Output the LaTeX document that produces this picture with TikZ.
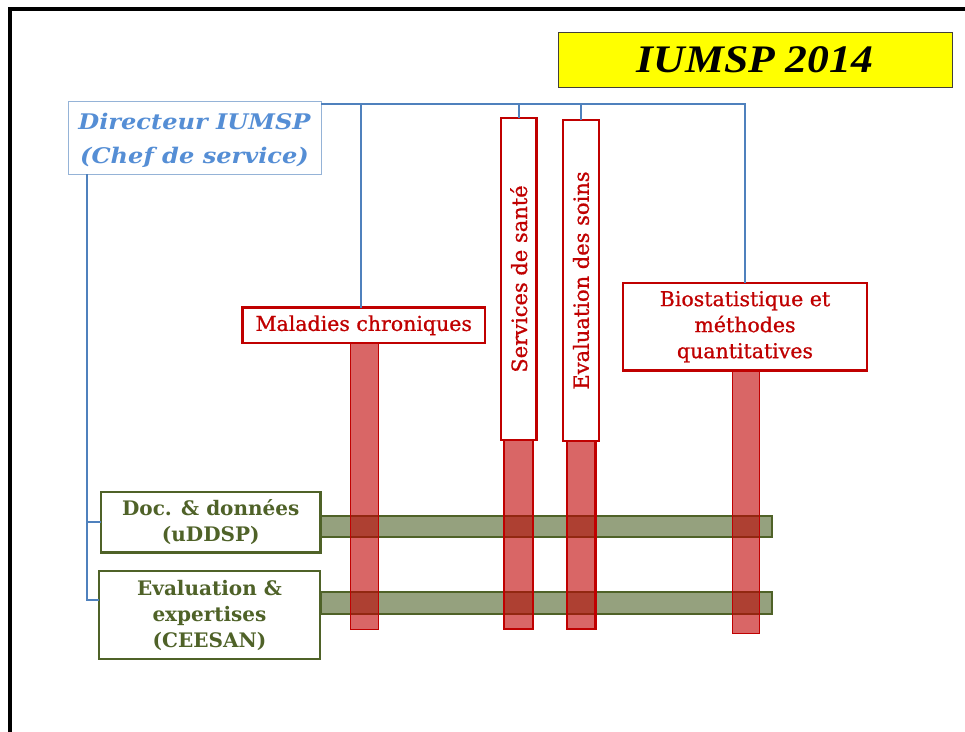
\documentclass[tikz,border=0pt]{standalone}
\usepackage{fontspec}
\setmainfont{DejaVu Serif}
\newfontfamily\redfont[FakeBold=0.8]{DejaVu Serif}
\newfontfamily\dirfont[FakeStretch=1.12]{DejaVu Serif}
\newfontfamily\titfont[FakeStretch=1.12]{Liberation Serif}
\definecolor{redc}{HTML}{C00000}
\definecolor{greenc}{HTML}{4F6228}
\definecolor{bluel}{HTML}{4F81BD}
\definecolor{bluet}{HTML}{558ED5}
\definecolor{blueb}{HTML}{95B3D7}
\definecolor{yel}{HTML}{FFFF00}
\tikzset{
  box/.style={draw, rectangle, inner sep=0pt, outer sep=0pt, fill=white, align=center},
  redbox/.style={box, draw=redc, line width=2.2pt, text=redc, font=\redfont\fontsize{20.5}{26}\selectfont},
  greenbox/.style={box, draw=greenc, line width=2.4pt, text=greenc, font=\fontsize{20}{26}\selectfont\bfseries},
  redbar/.style={rectangle, inner sep=0pt, outer sep=0pt, draw=redc, fill=redc, fill opacity=0.6, draw opacity=1},
  greenbar/.style={rectangle, inner sep=0pt, outer sep=0pt, draw=greenc, fill=greenc, fill opacity=0.6, line width=1.2pt},
  bl/.style={draw=bluel, line width=2pt},
  vtext/.style={text=redc, rotate=90, font=\redfont\fontsize{21}{25}\selectfont, inner sep=0pt},
}
\begin{document}
\begin{tikzpicture}[x=1pt,y=-1pt]
\useasboundingbox (0,0) rectangle (965,731);
% frame
\draw[line width=4pt, black] (10,745) -- (10,9) -- (980,9);
% title
\node[box, fill=yel, draw=black!75!yellow!60!black, line width=1pt, minimum width=394pt, minimum height=55pt,
      font=\titfont\fontsize{39}{40}\selectfont\bfseries\itshape] (title) at (755,59.5) {IUMSP 2014};
% director
\node[box, draw=blueb, line width=1pt, minimum width=253pt, minimum height=73pt] (dir) at (194.5,137.5) {};
\node[text=bluet, align=center, inner sep=0pt, font=\dirfont\fontsize{21.5}{34}\selectfont\bfseries\itshape] (dirt) at ([yshift=-3pt]dir.center) {Directeur IUMSP\\(Chef de service)};
% green bars
\node[greenbar, minimum width=451pt, minimum height=21pt] (g1) at (546.5,526.5) {};
\node[greenbar, minimum width=451pt, minimum height=22pt] (g2) at (546.5,603) {};
% red bars
\node[redbar, line width=1pt, minimum width=28pt, minimum height=286pt] (b1) at (364,486) {};
\node[redbar, line width=2.5pt, minimum width=29pt, minimum height=189pt] (b2) at (518.5,534.5) {};
\node[redbar, line width=2.5pt, minimum width=28.5pt, minimum height=188pt] (b3) at (581.25,535) {};
\node[redbar, line width=1pt, minimum width=27pt, minimum height=262pt] (b4) at (745.5,502) {};
% red boxes
\node[redbox, minimum width=242.5pt, minimum height=35.5pt] (mal) at (363.75,325.25) {Maladies chroniques};
\node[redbox, minimum width=35.5pt, minimum height=322pt] (serv) at (518.75,279) {};
\node[vtext] (servt) at (serv.center) {Services de santé};
\node[redbox, minimum width=36pt, minimum height=321pt] (evs) at (581,280.5) {};
\node[vtext] (evst) at (evs.center) {Evaluation des soins};
\node[redbox, minimum width=244pt, minimum height=87.5pt] (bio) at (745,326.75) {Biostatistique et\\méthodes\\quantitatives};
% green boxes
\node[greenbox, minimum width=219.5pt, minimum height=60.5pt] (doc) at (210.75,522.25) {Doc. \& données\\(uDDSP)};
\node[greenbox, minimum width=221pt, minimum height=88pt] (eex) at (209.5,615) {Evaluation \&\\expertises\\(CEESAN)};
% blue connectors
\coordinate (hl) at (321,104);
\coordinate (lt) at (87,174);
\draw[bl] (hl) -| (bio.north);
\draw[bl] ([xshift=-3pt]mal.north) -- ([xshift=-3pt]mal.north |- hl);
\draw[bl] (serv.north) -- (serv.north |- hl);
\draw[bl] (evs.north) -- (evs.north |- hl);
\draw[bl] (lt) |- ([yshift=15pt]eex.west);
\draw[bl] (lt |- doc.west) -- (doc.west);
\end{tikzpicture}
\end{document}
